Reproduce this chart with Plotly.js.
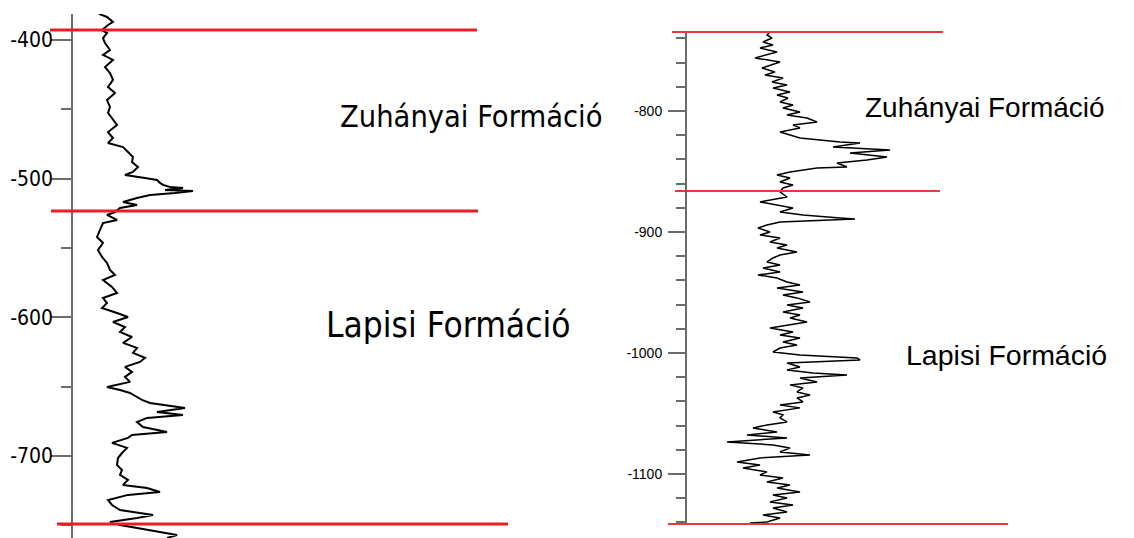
<!DOCTYPE html>
<html>
<head>
<meta charset="utf-8">
<script src="https://cdn.plot.ly/plotly-3.0.1.min.js"></script>
<style>html,body{margin:0;padding:0;background:#fff;}#chart{width:1134px;height:538px;}</style>
</head>
<body>
<div id="chart"></div>
<script>
// ---- Left well log (depth in m, log value in relative units) ----
const leftDepth = [-381.2,-383.4,-387.0,-389.2,-392.8,-395.0,-398.6,-402.2,-407.2,-410.8,-414.4,-419.5,-423.8,-428.8,-433.9,-438.2,-443.3,-448.3,-452.6,-457.7,-461.3,-466.4,-470.7,-474.3,-477.2,-480.8,-484.4,-488.0,-491.6,-495.2,-497.4,-499.5,-501.0,-503.1,-504.5,-506.0,-506.7,-508.2,-508.9,-510.3,-511.8,-514.0,-516.8,-519.0,-521.2,-524.1,-526.2,-529.8,-532.0,-537.0,-542.1,-546.4,-551.5,-556.5,-560.8,-565.9,-569.5,-573.1,-578.1,-582.5,-586.1,-589.7,-593.3,-596.9,-599.8,-603.4,-607.0,-610.6,-614.2,-618.5,-622.1,-625.7,-629.3,-632.2,-635.8,-639.4,-643.0,-646.6,-650.3,-652.4,-654.6,-657.5,-659.6,-661.8,-665.4,-668.3,-670.4,-672.6,-675.5,-679.1,-682.7,-684.9,-687.0,-690.6,-694.2,-697.9,-701.5,-706.5,-710.1,-713.7,-717.3,-720.9,-723.1,-726.0,-728.1,-731.8,-735.4,-739.0,-742.6,-744.7,-747.6,-749.8,-752.0,-754.8,-757.0,-759.2];
const leftLog = [26,34,40,35,29,34,30,32,37,30,40,32,37,40,35,42,34,37,35,40,44,35,40,35,50,55,60,59,65,60,52,72,84,87,90,97,110,92,120,102,77,64,50,64,47,42,34,44,30,27,24,30,25,29,34,37,42,30,39,44,30,34,29,44,55,40,52,47,59,50,64,60,72,67,52,59,52,57,34,47,57,64,69,77,112,84,110,74,64,70,94,59,55,39,54,49,45,44,49,47,55,50,74,87,55,35,39,47,80,64,37,47,64,84,104,94];
const leftBoundaries = [-392.8, -523.3, -749.1];
const leftTickVals = [-400, -500, -600, -700];
const leftTickText = ['-400', '-500', '-600', '-700'];

// ---- Right well log ----
const rightDepth = [-734.7,-737.2,-739.7,-743.0,-745.5,-747.9,-751.2,-753.7,-756.2,-759.5,-762.0,-764.5,-767.8,-770.2,-772.7,-776.0,-778.5,-781.0,-784.3,-786.8,-789.3,-792.6,-795.0,-797.5,-800.8,-803.3,-805.8,-809.1,-811.6,-814.0,-817.4,-819.8,-822.3,-825.6,-826.4,-829.8,-832.2,-834.7,-838.0,-840.5,-843.0,-846.3,-847.1,-850.4,-852.9,-855.4,-858.7,-861.2,-863.6,-866.9,-871.1,-875.2,-877.7,-880.2,-883.5,-885.9,-888.4,-889.3,-891.7,-894.2,-896.7,-900.0,-902.5,-905.0,-908.3,-910.7,-913.2,-916.5,-919.0,-921.5,-924.8,-927.3,-929.7,-933.1,-935.5,-938.0,-941.3,-943.8,-946.3,-949.6,-952.1,-954.5,-957.9,-960.3,-962.8,-966.1,-968.6,-971.1,-974.4,-976.9,-979.3,-982.6,-985.1,-987.6,-990.9,-993.4,-995.9,-999.2,-1001.7,-1004.1,-1005.8,-1008.3,-1011.6,-1014.0,-1016.5,-1018.2,-1020.7,-1024.0,-1026.4,-1028.9,-1032.2,-1034.7,-1037.2,-1040.5,-1043.0,-1045.4,-1048.8,-1051.2,-1053.7,-1057.0,-1059.5,-1062.0,-1065.3,-1067.8,-1070.2,-1073.5,-1076.0,-1078.5,-1081.8,-1084.3,-1086.8,-1090.1,-1092.6,-1095.0,-1098.3,-1100.8,-1103.3,-1106.6,-1109.1,-1111.6,-1114.9,-1117.4,-1119.8,-1123.1,-1125.6,-1128.1,-1131.4,-1133.9,-1136.4,-1139.7,-1140.5];
const rightLog = [83,80,85,76,86,73,90,80,68,93,83,75,88,78,96,85,100,86,103,90,101,93,106,96,113,100,120,130,106,113,93,103,113,153,173,146,203,163,200,180,150,160,130,103,90,103,93,106,96,93,100,73,90,106,93,116,153,168,93,80,71,83,73,93,83,100,90,110,93,86,80,93,76,93,71,90,100,113,90,116,96,110,123,100,116,96,113,103,120,100,83,106,93,113,96,110,93,86,113,170,173,100,113,100,126,160,113,130,103,116,110,123,110,116,93,113,86,96,93,100,80,66,90,60,100,40,86,103,93,123,73,50,73,56,80,73,96,80,103,90,113,86,100,83,106,86,100,76,93,80,63];
const rightBoundaries = [-734.7, -866.1, -1141.3];
const rightTickVals = [-800, -900, -1000, -1100];
const rightTickText = ['-800', '-900', '-1000', '-1100'];

const formationNames = ['Zuhányai Formáció', 'Lapisi Formáció'];

const W = 1134, H = 538;
const px = v => v / W;
const py = v => 1 - v / H;

const narrow = 'DejaVu Sans Condensed, Liberation Sans Narrow, sans-serif';
const sans = 'Liberation Sans, Arial, sans-serif';

const traces = [
  {x: leftLog, y: leftDepth, xaxis: 'x', yaxis: 'y', type: 'scatter', mode: 'lines',
   line: {color: '#000', width: 2}, hoverinfo: 'skip'},
  {x: rightLog, y: rightDepth, xaxis: 'x2', yaxis: 'y2', type: 'scatter', mode: 'lines',
   line: {color: '#000', width: 1.5}, hoverinfo: 'skip'},
  // empty trace that only registers the label-only companion axis of the left log
  {x: [], y: [], xaxis: 'x', yaxis: 'y3', type: 'scatter', mode: 'none', hoverinfo: 'skip'}
];

const leftExt = [[50, 477], [51, 478], [57, 508]];
const rightExt = [[672, 943], [675, 940], [668, 1008]];
const shapes = [];
leftBoundaries.forEach((d, i) => shapes.push({type: 'line', xref: 'paper', yref: 'y',
  x0: px(leftExt[i][0]), x1: px(leftExt[i][1]), y0: d, y1: d, line: {color: '#ee1c24', width: 3}}));
rightBoundaries.forEach((d, i) => shapes.push({type: 'line', xref: 'paper', yref: 'y2',
  x0: px(rightExt[i][0]), x1: px(rightExt[i][1]), y0: d, y1: d, line: {color: '#e5393f', width: 2}}));

const annotations = [
  {text: formationNames[0], x: px(471), y: py(117), font: {family: narrow, size: 30.5, color: '#000'}},
  {text: formationNames[1], x: px(448), y: py(325), font: {family: narrow, size: 35, color: '#000'}},
  {text: formationNames[0], x: px(985), y: py(107), font: {family: sans, size: 28, color: '#000'}},
  {text: formationNames[1], x: px(1006), y: py(355), font: {family: sans, size: 28.5, color: '#000'}}
].map(a => Object.assign({xref: 'paper', yref: 'paper', xanchor: 'center', yanchor: 'middle', showarrow: false}, a));

const axisCommon = {showline: true, linecolor: '#6b6b6b', linewidth: 2, ticks: 'outside', tickcolor: '#6b6b6b',
  tickwidth: 2, showgrid: false, zeroline: false, tickmode: 'array', fixedrange: true};

const leftRange = [-759.2, -381.25];

const layout = {
  width: W, height: H,
  margin: {l: 0, r: 0, t: 0, b: 0},
  paper_bgcolor: '#fff', plot_bgcolor: '#fff',
  showlegend: false,
  xaxis: {domain: [px(73), px(620)], range: [0, 547], visible: false, fixedrange: true},
  xaxis2: {domain: [px(687), 1], range: [0, 447], visible: false, fixedrange: true},
  yaxis: Object.assign({}, axisCommon, {
    anchor: 'x', domain: [0, (H - 14) / H], range: leftRange,
    tickvals: leftTickVals, ticktext: leftTickText, ticklen: 20, showticklabels: false,
    minor: {tickmode: 'linear', tick0: 0, dtick: 50, ticks: 'outside', ticklen: 10, tickwidth: 2, tickcolor: '#6b6b6b', showgrid: false}
  }),
  // label-only companion axis for the left log (labels sit closer to the ticks)
  yaxis3: {
    overlaying: 'y', anchor: 'free', position: px(53), side: 'left', range: leftRange, autorange: false,
    tickmode: 'array', tickvals: leftTickVals, ticktext: leftTickText, ticks: '', showline: false,
    showgrid: false, zeroline: false, fixedrange: true,
    tickfont: {family: narrow, size: 21, color: '#000'}
  },
  yaxis2: Object.assign({}, axisCommon, {
    anchor: 'x2', domain: [(H - 525) / H, (H - 31) / H], range: [-1142.2, -733.9],
    tickvals: rightTickVals, ticktext: rightTickText, ticklen: 17, ticklabelstandoff: 3,
    tickfont: {family: sans, size: 14, color: '#000'},
    minor: {tickmode: 'linear', tick0: 0, dtick: 20, ticks: 'outside', ticklen: 9, tickwidth: 2, tickcolor: '#6b6b6b', showgrid: false}
  }),
  shapes: shapes,
  annotations: annotations
};

Plotly.newPlot('chart', traces, layout, {displayModeBar: false, staticPlot: true});
</script>
</body>
</html>
